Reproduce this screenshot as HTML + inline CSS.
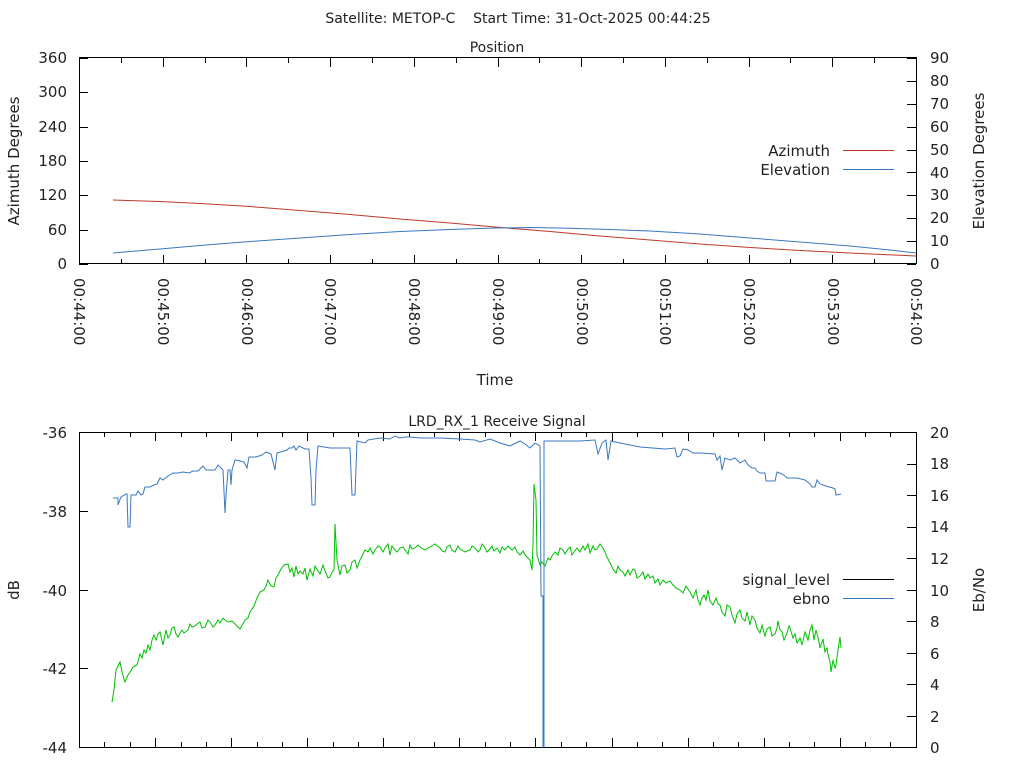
<!DOCTYPE html>
<html><head><meta charset="utf-8">
<style>
html,body{margin:0;padding:0;background:#fff;}
svg{display:block;font-family:"DejaVu Sans","Liberation Sans",sans-serif;}
text{font-size:15px;fill:#222;white-space:pre;}
</style></head><body>
<svg width="1024" height="768" viewBox="0 0 1024 768" xmlns="http://www.w3.org/2000/svg">
<text x="518" y="23" text-anchor="middle" style="font-size:14px">Satellite: METOP-C    Start Time: 31-Oct-2025 00:44:25</text>
<text x="497" y="52" text-anchor="middle" style="font-size:14px">Position</text>
<rect x="79.5" y="57.5" width="837" height="206" fill="none" stroke="#000" stroke-width="1"/>
<path fill="none" stroke="#000" stroke-width="1" d="
M79.5 264v-9M79.5 58v9 M121.5 264v-5M121.5 58v5 M163.5 264v-9M163.5 58v9 M205.5 264v-5M205.5 58v5
M246.5 264v-9M246.5 58v9 M288.5 264v-5M288.5 58v5 M330.5 264v-9M330.5 58v9 M372.5 264v-5M372.5 58v5
M414.5 264v-9M414.5 58v9 M456.5 264v-5M456.5 58v5 M498.5 264v-9M498.5 58v9 M539.5 264v-5M539.5 58v5
M581.5 264v-9M581.5 58v9 M623.5 264v-5M623.5 58v5 M665.5 264v-9M665.5 58v9 M707.5 264v-5M707.5 58v5
M749.5 264v-9M749.5 58v9 M790.5 264v-5M790.5 58v5 M832.5 264v-9M832.5 58v9 M874.5 264v-5M874.5 58v5
M79 264.5h9M79 230.5h9M79 195.5h9M79 161.5h9M79 127.5h9M79 92.5h9M79 58.5h9
M916 264.5h-9M916 241.5h-9M916 218.5h-9M916 195.5h-9M916 172.5h-9M916 150.5h-9M916 127.5h-9M916 104.5h-9M916 81.5h-9M916 58.5h-9"/>
<g text-anchor="end">
<text x="67" y="63">360</text><text x="67" y="97">300</text><text x="67" y="132">240</text>
<text x="67" y="166">180</text><text x="67" y="200">120</text><text x="67" y="235">60</text><text x="67" y="269">0</text>
</g>
<g text-anchor="start">
<text x="930" y="63">90</text><text x="930" y="86">80</text><text x="930" y="109">70</text>
<text x="930" y="132">60</text><text x="930" y="155">50</text><text x="930" y="178">40</text>
<text x="930" y="200">30</text><text x="930" y="223">20</text><text x="930" y="246">10</text><text x="930" y="269">0</text>
</g>
<text transform="translate(19,161) rotate(-90)" text-anchor="middle">Azimuth Degrees</text>
<text transform="translate(984,161) rotate(-90)" text-anchor="middle">Elevation Degrees</text>
<g>
<text transform="translate(74,278) rotate(90)">00:44:00</text>
<text transform="translate(158,278) rotate(90)">00:45:00</text>
<text transform="translate(242,278) rotate(90)">00:46:00</text>
<text transform="translate(325,278) rotate(90)">00:47:00</text>
<text transform="translate(409,278) rotate(90)">00:48:00</text>
<text transform="translate(493,278) rotate(90)">00:49:00</text>
<text transform="translate(577,278) rotate(90)">00:50:00</text>
<text transform="translate(660,278) rotate(90)">00:51:00</text>
<text transform="translate(744,278) rotate(90)">00:52:00</text>
<text transform="translate(828,278) rotate(90)">00:53:00</text>
<text transform="translate(911,278) rotate(90)">00:54:00</text>
</g>
<text x="495" y="385" text-anchor="middle">Time</text>
<text x="830" y="156" text-anchor="end">Azimuth</text>
<line x1="843" y1="150.5" x2="894" y2="150.5" stroke="#c0392b"/>
<text x="830" y="175" text-anchor="end">Elevation</text>
<line x1="843" y1="169.5" x2="894" y2="169.5" stroke="#3a78c0"/>
<polyline fill="none" stroke="#c0392b" stroke-width="1" points="113,200 160,201.5 200,203.5 250,206.5 300,210.5 350,214.5 400,219 450,223 495,227 550,231.5 600,236 650,240 700,244 750,247.5 800,250.5 860,253.5 916,256"/>
<polyline fill="none" stroke="#3a78c0" stroke-width="1" points="113,253 160,249 200,245.5 250,241.5 300,238 350,234.5 400,231.5 450,229.5 495,228 530,227.5 560,228 610,229.5 650,231 700,234 750,238 800,242 850,246 890,250 916,253"/>

<text x="497" y="426" text-anchor="middle" style="font-size:14px">LRD_RX_1 Receive Signal</text>
<rect x="79.5" y="432.5" width="837" height="315" fill="none" stroke="#000" stroke-width="1"/>
<path fill="none" stroke="#000" stroke-width="1" d="
M79.5 747v-9M79.5 432v9 M104.5 747v-5M104.5 432v5 M130.5 747v-5M130.5 432v5
M155.5 747v-9M155.5 432v9 M181.5 747v-5M181.5 432v5 M206.5 747v-5M206.5 432v5
M231.5 747v-9M231.5 432v9 M257.5 747v-5M257.5 432v5 M282.5 747v-5M282.5 432v5
M307.5 747v-9M307.5 432v9 M333.5 747v-5M333.5 432v5 M358.5 747v-5M358.5 432v5
M383.5 747v-9M383.5 432v9 M409.5 747v-5M409.5 432v5 M434.5 747v-5M434.5 432v5
M459.5 747v-9M459.5 432v9 M485.5 747v-5M485.5 432v5 M510.5 747v-5M510.5 432v5
M535.5 747v-9M535.5 432v9 M561.5 747v-5M561.5 432v5 M586.5 747v-5M586.5 432v5
M612.5 747v-9M612.5 432v9 M637.5 747v-5M637.5 432v5 M662.5 747v-5M662.5 432v5
M688.5 747v-9M688.5 432v9 M713.5 747v-5M713.5 432v5 M738.5 747v-5M738.5 432v5
M764.5 747v-9M764.5 432v9 M789.5 747v-5M789.5 432v5 M814.5 747v-5M814.5 432v5
M840.5 747v-9M840.5 432v9 M865.5 747v-5M865.5 432v5 M890.5 747v-5M890.5 432v5
M79 747.5h9M79 668.5h9M79 590.5h9M79 511.5h9M79 432.5h9
M916 747.5h-9M916 716.5h-9M916 684.5h-9M916 653.5h-9M916 621.5h-9M916 590.5h-9M916 558.5h-9M916 527.5h-9M916 495.5h-9M916 464.5h-9M916 432.5h-9"/>
<g text-anchor="end">
<text x="67" y="438">-36</text><text x="67" y="517">-38</text><text x="67" y="596">-40</text>
<text x="67" y="674">-42</text><text x="67" y="753">-44</text>
</g>
<g text-anchor="start">
<text x="930" y="438">20</text><text x="930" y="469">18</text><text x="930" y="501">16</text>
<text x="930" y="532">14</text><text x="930" y="564">12</text><text x="930" y="596">10</text>
<text x="930" y="627">8</text><text x="930" y="659">6</text><text x="930" y="690">4</text>
<text x="930" y="722">2</text><text x="930" y="753">0</text>
</g>
<text transform="translate(19,590) rotate(-90)" text-anchor="middle">dB</text>
<text transform="translate(984,590) rotate(-90)" text-anchor="middle">Eb/No</text>
<text x="830" y="585" text-anchor="end">signal_level</text>
<line x1="843" y1="579.5" x2="894" y2="579.5" stroke="#000"/>
<text x="830" y="604" text-anchor="end">ebno</text>
<line x1="843" y1="598.5" x2="894" y2="598.5" stroke="#3a78c0"/>
<polyline fill="none" stroke="#3a78c0" stroke-width="1" points="113,498 118,498 118,505 121,497 126,494 127,494 128,527 130,527 131,495 136,495 138,491 141,495 143,494 145,487 150,487 154,485 157,484 160,478 163,480 168,476 173,473 178,473 183,472 189,473 193,471 198,471 203,466 206,470 215,470 218,465 223,470 225,513 226,496 228,470 230,470 231,485 232,470 235,460 240,461 244,462 247,468 249,457 256,457 262,455 266,452 271,454 275,470 277,453 287,450 289,448 292,448 294,446 296,450 299,446 305,449 309,449 311,478 312,505 315,505 316,470 318,446 330,448 350,448 352,495 355,495 357,441 365,443 368,440 380,438 390,439 395,436 400,438 405,437 410,437 420,438 440,438 460,439 475,440 480,442 490,439 495,441 500,443 510,446 520,441 525,444 530,448 535,443 540,446 541,596 543,596 543,747 544,747 544,441 560,441 580,441 595,440 598,454 602,443 606,440 608,460 611,441 620,443 640,447 665,449 675,448 677,457 680,456 683,449 688,450 693,453 700,453 715,454 717,460 720,456 722,470 725,458 730,460 735,458 740,463 745,460 748,465 752,468 755,468 757,471 760,473 765,473 766,481 775,481 777,472 782,474 785,476 787,478 797,478 805,480 810,484 812,487 815,487 817,480 820,484 826,486 833,488 835,489 836,495 841,494"/>
<polyline fill="none" stroke="#00c000" stroke-width="1" points="112,702 114,690 116,670 120,662 122,672 125,682 128,675 130,672 133,667 137,665 140,654 142,658 144,650 146,653 148,645 150,650 152,640 154,635 156,640 158,634 160,632 163,645 166,630 168,638 170,635 172,628 174,627 176,634 178,637 180,633 182,630 184,633 188,630 190,624 192,627 195,626 197,624 200,622 202,628 205,627 208,620 210,622 213,627 215,625 218,620 220,623 223,618 225,620 228,622 232,621 236,625 240,629 245,620 248,618 250,612 254,606 257,598 260,592 264,590 266,586 268,580 271,586 274,587 276,578 278,575 281,569 284,565 288,564 290,572 292,568 294,577 296,566 298,574 300,571 303,574 305,568 307,580 310,569 313,576 315,566 318,571 320,574 323,565 325,571 328,578 330,577 332,572 334,570 335,524 337,560 339,570 340,575 342,566 345,565 347,573 350,570 352,562 355,560 357,568 360,560 362,556 365,550 368,552 370,548 373,554 375,550 378,546 380,547 383,552 385,548 388,544 390,555 392,546 395,550 397,552 400,548 403,547 405,550 408,554 410,545 412,549 415,548 418,545 420,547 425,550 430,547 435,544 440,548 442,551 445,552 447,547 450,545 452,550 455,552 458,546 460,549 465,552 470,550 472,546 475,548 478,552 480,550 482,544 484,546 487,552 490,549 492,546 494,551 497,548 500,553 502,547 505,550 508,546 512,550 515,547 517,552 520,555 523,551 525,555 528,558 530,560 532,570 533,545 534,484 536,500 537,555 540,565 542,562 545,566 548,558 550,560 552,556 555,552 558,555 560,548 563,550 565,554 568,549 570,547 572,555 574,552 577,548 580,552 583,546 585,550 588,544 590,553 593,546 595,550 597,549 600,544 603,548 605,552 607,557 610,563 612,567 614,571 616,573 618,566 620,570 623,572 625,576 628,570 630,575 633,569 635,570 637,578 640,576 643,572 645,579 648,574 650,578 653,576 655,583 658,579 660,585 663,580 666,583 670,581 673,585 676,588 680,590 683,593 686,586 690,592 693,598 696,590 698,600 700,605 702,598 704,595 706,600 708,590 710,601 713,605 716,598 718,604 720,605 722,612 725,616 727,605 730,607 732,615 735,623 737,614 740,610 742,618 745,621 747,612 750,625 752,616 755,620 757,628 760,633 762,625 765,636 767,629 770,627 772,636 775,634 777,628 778,621 780,630 782,632 784,640 787,633 789,626 790,628 793,638 795,634 797,643 800,638 802,645 805,632 808,640 810,630 812,625 814,640 816,630 818,637 820,648 821,645 823,639 825,652 827,648 828,654 830,662 831,672 833,660 835,668 836,665 838,650 840,637 841,648"/>
</svg>
</body></html>
